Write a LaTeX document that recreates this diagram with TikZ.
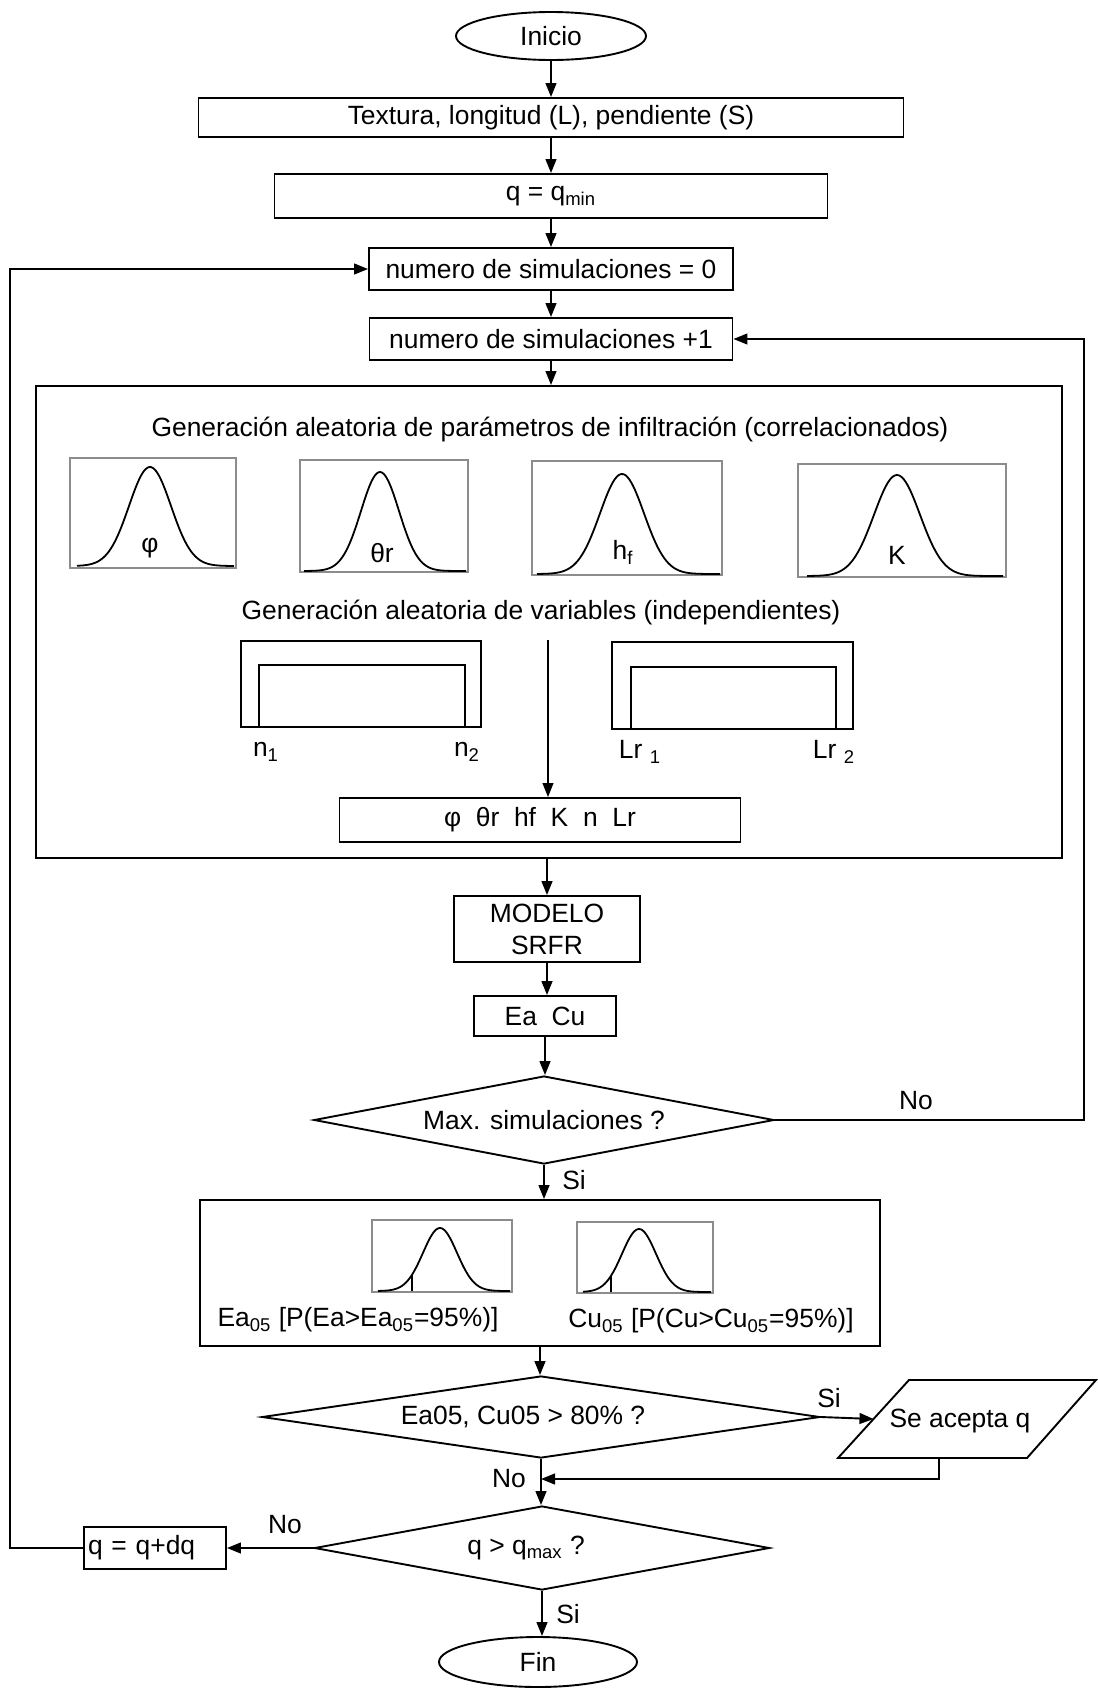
\documentclass[tikz,border=0pt]{standalone}
\usepackage{fontspec}
\setmainfont{Liberation Sans}
\usetikzlibrary{shapes.geometric,arrows.meta,calc}
\newcommand\bellcurve[5]{\draw[bell] plot[domain=#5,samples=90,smooth] ({#1+(\x)},{#2-#3*exp(-0.5*((\x)/#4)*((\x)/#4))});}
\begin{document}
\begin{tikzpicture}[x=0.5pt,y=-0.5pt,
  font=\fontsize{13.2}{16}\selectfont,
  line width=0.95pt,
  box/.style={draw,rectangle,inner sep=0pt},
  term/.style={draw,ellipse,inner sep=0pt},
  dec/.style={draw,diamond,aspect=5,inner sep=0pt},
  arr/.style={-{Triangle[length=7pt,width=5.4pt]}},
  grayframe/.style={draw=black!45,line width=0.6pt},
  bell/.style={line width=0.9pt},
  lbl/.style={inner sep=0pt}]
\useasboundingbox (0,0) rectangle (1098,1688);

% main flow nodes
\node[term,minimum width=95pt,minimum height=24pt] (ini) at (551,36) {Inicio};
\node[box,minimum width=352.5pt,minimum height=19.5pt] (tex) at (551,117.5) {Textura, longitud (L), pendiente (S)};
\node[box,minimum width=276.5pt,minimum height=22pt] (qmin) at (551,196) {q = q\textsubscript{min}};
\node[box,minimum width=182pt,minimum height=21pt] (n0) at (551,269) {numero de simulaciones = 0};
\node[box,minimum width=181.5pt,minimum height=21pt] (n1) at (551,339) {numero de simulaciones +1};
\node[box,line width=1pt,minimum width=513pt,minimum height=236pt] (gen) at (549,622) {};

% generation block contents
\node[lbl] (t1) at (550,430) {Generación aleatoria de parámetros de infiltración (correlacionados)};
\draw[grayframe] (70,458) rectangle (236,568);
\bellcurve{150}{566}{99}{21}{-73:84}
\node[lbl] (phi) at (150,548) {φ};
\draw[grayframe] (300,460) rectangle (468,572);
\bellcurve{380}{571}{99}{19}{-76:86}
\node[lbl] (thr) at (382,553) {θr};
\draw[grayframe] (532,461) rectangle (722,575);
\bellcurve{622}{574}{100}{22}{-85:98}
\node[lbl] (hf) at (623,552) {h\textsubscript{f}};
\draw[grayframe] (798,464) rectangle (1006,577);
\bellcurve{897}{576}{101}{23}{-90:106}
\node[lbl] (kk) at (897,555) {K};

\node[lbl] (t2) at (541,613) {Generación aleatoria de variables (independientes)};
\draw (241,641) rectangle (481,727);
\draw (259,727) -- (259,665) -- (465,665) -- (465,727);
\draw (612,642) rectangle (853,729);
\draw (631,729) -- (631,667) -- (836,667) -- (836,729);
\node[lbl] (ln1) at (266,752) {n\textsubscript{1}};
\node[lbl] (ln2) at (467,752) {n\textsubscript{2}};
\node[lbl] (lr1) at (640,752) {Lr \textsubscript{1}};
\node[lbl] (lr2) at (834,752) {Lr \textsubscript{2}};
\node[box,minimum width=200.5pt,minimum height=22pt] (vars) at (540,820) {φ\ \ θr\ \ hf\ \ K\ \ n\ \ Lr};
\coordinate (vtop) at (548,640);
\draw[arr,line width=0.8pt] (vtop) -- (vtop |- vars.north);

% lower flow nodes
\node[box,minimum width=93pt,minimum height=33pt,align=center] (mod) at (547,929) {MODELO\\SRFR};
\node[box,minimum width=71pt,minimum height=20pt] (eacu) at (545,1016) {Ea\ \ Cu};
\node[dec,minimum width=230pt,minimum height=44pt] (max) at (544,1120) {Max. simulaciones ?};
\node[box,minimum width=340pt,minimum height=73pt] (e05) at (540,1273) {};
\draw[grayframe] (372,1220) rectangle (512,1292);
\bellcurve{440}{1291}{63}{17}{-62:70}
\draw[line width=0.6pt] (412,1291) -- (412,1275);
\draw[grayframe] (577,1222) rectangle (713,1293);
\bellcurve{639}{1292}{63}{17}{-56:72}
\draw[line width=0.6pt] (611,1292) -- (611,1276);
\node[lbl] (lea) at (358,1320) {Ea\textsubscript{05} [P(Ea>Ea\textsubscript{05}=95\%)]};
\node[lbl] (lcu) at (711,1321) {Cu\textsubscript{05} [P(Cu>Cu\textsubscript{05}=95\%)]};
\node[dec,minimum width=279pt,minimum height=41pt] (d2) at (541,1417) {\hspace*{-18pt}Ea05, Cu05 > 80\% ?};
\node[dec,minimum width=227.5pt,minimum height=42pt] (d3) at (542,1548) {\hspace*{-16pt}q > q\textsubscript{max} ?};
\node[term,minimum width=99pt,minimum height=25pt] (fin) at (538,1662) {Fin};
\node[box,minimum width=71pt,minimum height=21pt,text width=67pt,align=left] (qdq) at (155,1548) {q = q+dq};

% output parallelogram
\coordinate (p1) at (838,1458);
\coordinate (p2) at (1027,1458);
\coordinate (p3) at (1096,1380);
\coordinate (p4) at (909,1380);
\draw (p1) -- (p2) -- (p3) -- (p4) -- cycle;
\node[lbl] (acc) at (960,1421) {Se acepta q};
\coordinate (accin) at ($(p1)!0.5!(p4)$);
\coordinate (accout) at (939,1458);

% connectors
\draw[arr] (ini.south) -- (tex.north);
\draw[arr] (tex.south) -- (qmin.north);
\draw[arr] (qmin.south) -- (n0.north);
\draw[arr] (n0.south) -- (n1.north);
\draw[arr] (n1.south) -- (n1.south |- gen.north);
\draw[arr] (mod.north |- gen.south) -- (mod.north);
\draw[arr] (mod.south) -- (mod.south |- eacu.north);
\draw[arr] (eacu.south) -- (eacu.south |- max.north);
\draw[arr] (max.south) -- (max.south |- e05.north);
\draw[arr] (e05.south) -- (e05.south |- d2.north);
\draw[arr] (d2.south) -- (d2.south |- d3.north);
\draw[arr] (d3.south) -- (d3.south |- fin.north);
\coordinate (rc) at (1084,0);
\draw[arr] (max.east) -- (max.east -| rc) |- (n1.east);
\coordinate (lc) at (10,0);
\draw[arr] (qdq.west) -- (qdq.west -| lc) |- (n0.west);
\draw[arr] (d3.west) -- (qdq.east);
\draw[arr] (d2.east) -- (accin);
\coordinate (jn) at (541,1479);
\draw[arr] (accout) |- (jn);

% branch labels
\node[lbl] (no1) at (916,1101) {No};
\node[lbl] (si1) at (574,1180) {Si};
\node[lbl] (si2) at (829,1398) {Si};
\node[lbl] (no2) at (509,1479) {No};
\node[lbl] (no3) at (285,1525) {No};
\node[lbl] (si3) at (568,1614) {Si};
\end{tikzpicture}
\end{document}
